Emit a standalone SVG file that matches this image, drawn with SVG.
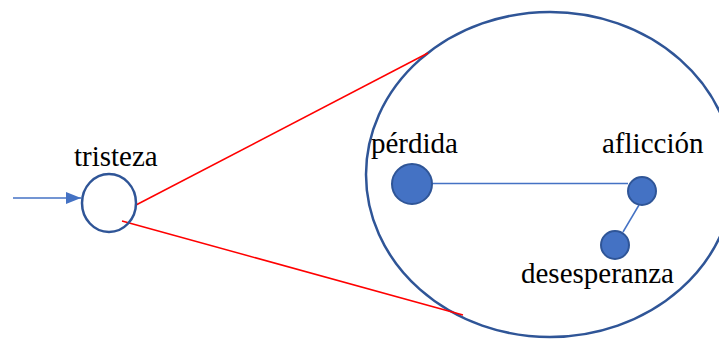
<svg xmlns="http://www.w3.org/2000/svg" width="719" height="339" viewBox="0 0 719 339">
<style>
text{font-family:"Liberation Serif","Times New Roman",serif;font-size:29px;fill:#000}
.dot{fill:#4472C4;stroke:#2F5597;stroke-width:2}
.ring{fill:none;stroke:#2F5597;stroke-width:2.5}
.edge{stroke:#4472C4;stroke-width:1.5;fill:none}
.red{stroke:#FF0000;stroke-width:1.5;fill:none}
</style>
<defs>
<marker id="ah" markerWidth="15" markerHeight="12" refX="15" refY="6" orient="auto" markerUnits="userSpaceOnUse" viewBox="0 0 15 12">
<path d="M0,0 L15,6 L0,12 z" fill="#4472C4"/>
</marker>
</defs>
<g id="zoom-ring"><ellipse class="ring" cx="550" cy="174.5" rx="184" ry="162.5"/></g>
<g id="connectors">
<line class="edge" x1="13" y1="198" x2="81" y2="198" marker-end="url(#ah)"/>
<line class="red" x1="136" y1="205" x2="428" y2="53"/>
<line class="red" x1="122" y1="221" x2="463" y2="315"/>
<line class="edge" x1="432" y1="183.5" x2="628" y2="183.5"/>
<line class="edge" x1="639" y1="205" x2="623" y2="232"/>
</g>
<g id="tristeza"><ellipse class="ring" cx="109" cy="203" rx="27" ry="29"/><text x="74" y="166">tristeza</text></g>
<g id="perdida"><circle class="dot" cx="412" cy="184" r="20"/><text x="371" y="153">pérdida</text></g>
<g id="afliccion"><circle class="dot" cx="642" cy="191" r="14"/><text x="602" y="153">aflicción</text></g>
<g id="desesperanza"><circle class="dot" cx="615" cy="245" r="14"/><text x="521" y="283">desesperanza</text></g>
</svg>
